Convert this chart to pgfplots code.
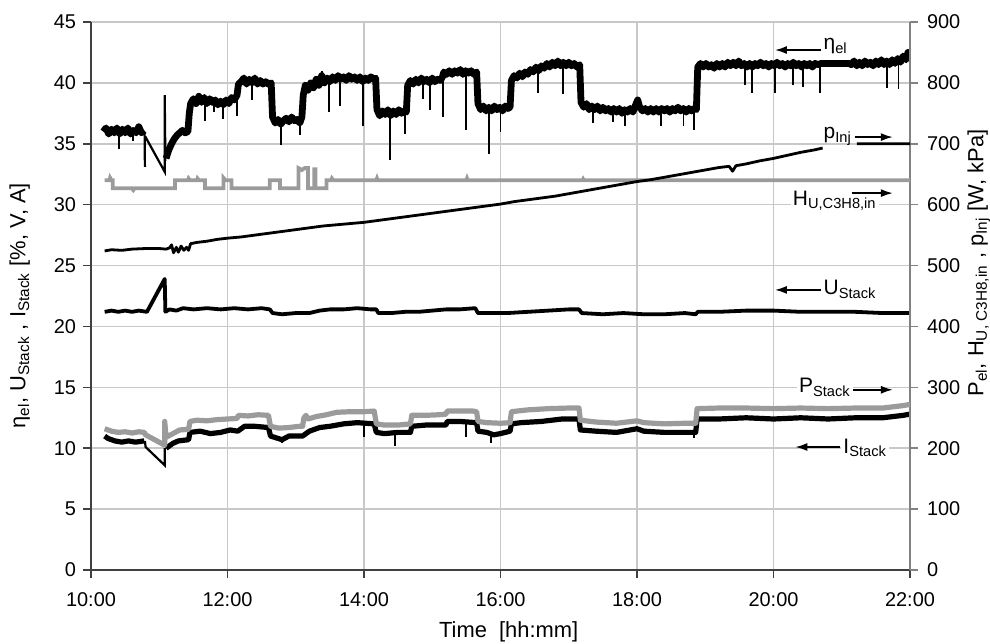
\documentclass[border=0pt]{standalone}
\usepackage{pgfplots}
\pgfplotsset{compat=1.18}
\usepackage{fontspec}
\setmainfont{Liberation Sans}
\usetikzlibrary{arrows.meta}

\definecolor{gridgray}{RGB}{200,200,200}
\definecolor{datagray}{RGB}{155,155,155}
\definecolor{axisgray}{RGB}{130,130,130}

\pgfplotsset{
  myaxis/.style={
    scale only axis, width=409.5bp, height=274bp,
    at={(0,0)}, anchor=south west,
    xmin=10, xmax=22,
    tick align=outside, major tick length=4bp,
    tick label style={font=\fontsize{10}{12}\selectfont},
    label style={font=\fontsize{11}{13}\selectfont},
    /pgf/number format/assume math mode=true,
    unbounded coords=jump,
  },
  thinspike/.style={black, line width=0.9bp},
}

\begin{document}
\begin{tikzpicture}
\useasboundingbox (-45.5bp,-37bp) rectangle (449.5bp,285bp);

% left axis: eta_el, U_Stack, I_Stack
\begin{axis}[myaxis,
  ymin=0, ymax=45, ytick={0,5,...,45},
  xtick={10,12,...,22},
  xticklabels={10:00,12:00,14:00,16:00,18:00,20:00,22:00},
  xticklabel style={yshift=-4bp},
  axis x line*=bottom, axis y line*=left,
  axis line style={black!75, line width=0.9bp},
  every tick/.style={black!75, line width=0.8bp},
  xmajorgrids, ymajorgrids,
  grid style={gridgray, line width=0.8bp},
  xlabel={Time~~[hh:mm]},
  xlabel style={at={(rel axis cs:0.51,-0.113)}, anchor=center},
  ylabel={η\textsubscript{el}, U\textsubscript{Stack} , I\textsubscript{Stack} [\%, V, A]},
  ylabel style={at={(rel axis cs:-0.087,0.482)}, anchor=center},
]
% eta_el
\addplot[black, line width=3.4bp, line join=round] coordinates {
(10.18,36.0) (10.22,36.3) (10.26,35.8) (10.30,36.2) (10.34,35.9) (10.38,36.3) (10.42,35.8) (10.46,36.2)
(10.50,35.9) (10.54,36.3) (10.58,35.8) (10.62,36.1) (10.66,35.9) (10.70,36.4) (10.74,35.9) (10.78,36.1)
};
\addplot[black, line width=1.1bp] coordinates {
(10.785,35.9) (10.79,33.1) (10.79,nan) (10.795,35.6) (11.08,32.7) (11.08,39.0) (11.09,33.6)
};
\addplot[black, line width=3.4bp, line join=round] coordinates {
(11.10,33.8) (11.14,34.5) (11.18,35.0) (11.22,35.4) (11.26,35.7) (11.30,35.9) (11.34,36.1) (11.38,35.9)
(11.42,36.0) (11.44,37.5) (11.46,38.3) (11.50,38.7) (11.54,38.3) (11.58,38.9) (11.62,38.4) (11.66,38.8)
(11.70,38.3) (11.74,38.7) (11.78,38.4) (11.82,38.6) (11.86,38.2) (11.90,38.5) (11.94,38.2) (11.98,38.6)
(12.02,38.3) (12.06,38.8) (12.10,38.6) (12.14,39.0) (12.16,39.9) (12.20,40.1) (12.24,40.4) (12.28,39.9)
(12.32,40.3) (12.36,40.0) (12.40,40.4) (12.44,39.9) (12.48,40.2) (12.52,39.9) (12.56,40.1) (12.60,39.9)
(12.64,40.0) (12.66,37.2) (12.70,36.7) (12.74,37.0) (12.78,36.6) (12.82,36.9) (12.86,37.1) (12.90,36.8)
(12.94,37.2) (12.98,36.9) (13.02,37.0) (13.06,36.7) (13.09,37.2) (13.11,39.0) (13.14,39.8) (13.18,39.4)
(13.22,40.0) (13.26,39.6) (13.30,40.3) (13.34,39.8) (13.38,40.6) (13.42,40.0) (13.46,40.4) (13.50,40.1)
(13.54,40.5) (13.58,40.2) (13.62,40.6) (13.66,40.3) (13.70,40.5) (13.74,40.2) (13.78,40.6) (13.82,40.3)
(13.86,40.5) (13.90,40.2) (13.94,40.5) (13.98,40.1) (14.02,40.4) (14.06,40.2) (14.10,40.5) (14.14,40.3)
(14.17,40.4) (14.19,37.8) (14.23,37.3) (14.27,37.7) (14.31,37.4) (14.35,37.8) (14.39,37.3) (14.43,37.7)
(14.47,37.4) (14.51,37.8) (14.55,37.5) (14.59,37.7) (14.62,37.6) (14.64,39.8) (14.68,40.2) (14.72,39.9)
(14.76,40.3) (14.80,40.0) (14.84,40.4) (14.88,40.1) (14.92,40.3) (14.96,40.0) (15.00,40.4) (15.04,40.1)
(15.08,40.3) (15.12,40.2) (15.15,40.5) (15.17,40.9) (15.21,40.7) (15.25,41.0) (15.29,40.7) (15.33,41.0)
(15.37,40.8) (15.41,41.1) (15.45,40.7) (15.49,41.0) (15.53,40.8) (15.57,41.0) (15.61,40.7) (15.65,40.9)
(15.67,38.3) (15.71,37.8) (15.75,38.1) (15.79,37.7) (15.83,38.0) (15.87,37.7) (15.91,38.1) (15.95,37.8)
(15.99,38.0) (16.03,37.7) (16.07,38.1) (16.11,37.9) (16.14,38.0) (16.16,40.2) (16.20,40.6) (16.24,40.4)
(16.28,40.8) (16.32,40.5) (16.36,40.9) (16.40,40.7) (16.44,41.1) (16.48,40.9) (16.52,41.3) (16.56,41.0)
(16.60,41.4) (16.64,41.2) (16.68,41.6) (16.72,41.3) (16.76,41.7) (16.80,41.4) (16.84,41.8) (16.88,41.4)
(16.92,41.7) (16.96,41.4) (17.00,41.7) (17.04,41.4) (17.08,41.6) (17.12,41.3) (17.16,41.5) (17.18,38.4)
(17.22,38.0) (17.26,38.3) (17.30,37.8) (17.34,38.1) (17.38,37.8) (17.42,38.1) (17.46,37.7) (17.50,38.0)
(17.54,37.7) (17.58,37.9) (17.62,37.6) (17.66,37.9) (17.70,37.6) (17.74,37.9) (17.78,37.5) (17.82,37.8)
(17.86,37.6) (17.90,37.9) (17.94,37.6) (17.98,38.2) (18.01,38.6) (18.04,38.0) (18.08,37.7) (18.12,37.9)
(18.16,37.6) (18.20,37.9) (18.24,37.6) (18.28,37.9) (18.32,37.6) (18.36,37.9) (18.40,37.7) (18.44,37.9)
(18.48,37.6) (18.52,37.9) (18.56,37.7) (18.60,38.0) (18.64,37.7) (18.68,37.9) (18.72,37.6) (18.76,37.9)
(18.80,37.7) (18.84,37.9) (18.87,37.8) (18.89,41.3) (18.93,41.6) (18.97,41.3) (19.01,41.6) (19.05,41.3)
(19.09,41.5) (19.13,41.2) (19.17,41.6) (19.21,41.3) (19.25,41.6) (19.29,41.3) (19.33,41.7) (19.37,41.4)
(19.41,41.7) (19.45,41.4) (19.49,41.8) (19.53,41.4) (19.57,41.6) (19.61,41.3) (19.65,41.6) (19.69,41.3)
(19.73,41.6) (19.77,41.4) (19.81,41.7) (19.85,41.4) (19.89,41.6) (19.93,41.3) (19.97,41.6) (20.01,41.4)
(20.05,41.7) (20.09,41.4) (20.13,41.6) (20.17,41.3) (20.21,41.6) (20.25,41.4) (20.29,41.7) (20.33,41.4)
(20.37,41.6) (20.41,41.3) (20.45,41.6) (20.49,41.4) (20.53,41.6) (20.57,41.3) (20.61,41.6) (20.65,41.5)
(20.70,41.6) (21.10,41.6) (21.14,41.5) (21.18,41.8) (21.22,41.4) (21.26,41.7) (21.30,41.4) (21.34,41.8)
(21.38,41.5) (21.42,41.7) (21.46,41.4) (21.50,41.8) (21.54,41.5) (21.58,41.9) (21.62,41.5) (21.66,41.8)
(21.70,41.5) (21.74,41.9) (21.78,41.6) (21.82,42.0) (21.86,41.7) (21.90,42.2) (21.94,41.9) (21.97,42.5)
(22.00,42.0)
};
% eta_el short dips
\addplot[thinspike] coordinates {
(10.41,35.9) (10.41,34.6) (10.41,nan)
(10.62,35.9) (10.62,35.2) (10.62,nan)
(11.67,38.5) (11.67,36.9) (11.67,nan)
(11.80,38.4) (11.80,37.6) (11.80,nan)
(11.93,38.4) (11.93,37.0) (11.93,nan)
(12.14,38.8) (12.14,37.3) (12.14,nan)
(12.36,40.0) (12.36,38.6) (12.36,nan)
(12.78,36.8) (12.78,34.9) (12.78,nan)
(13.06,36.9) (13.06,35.7) (13.06,nan)
(13.38,40.2) (13.38,41.0) (13.38,nan)
(13.49,40.2) (13.49,37.6) (13.49,nan)
(13.65,40.3) (13.65,38.1) (13.65,nan)
(13.98,40.3) (13.98,36.5) (13.98,nan)
(14.38,37.5) (14.38,33.7) (14.38,nan)
(14.60,37.6) (14.60,35.8) (14.60,nan)
(14.87,40.1) (14.87,38.7) (14.87,nan)
(14.97,40.1) (14.97,37.8) (14.97,nan)
(15.16,40.3) (15.16,37.2) (15.16,nan)
(15.49,40.9) (15.49,36.1) (15.49,nan)
(15.83,37.9) (15.83,34.2) (15.83,nan)
(16.00,37.9) (16.00,36.0) (16.00,nan)
(16.55,41.1) (16.55,39.2) (16.55,nan)
(16.92,41.5) (16.92,39.1) (16.92,nan)
(17.35,38.0) (17.35,36.7) (17.35,nan)
(17.65,37.8) (17.65,36.8) (17.65,nan)
(17.82,37.7) (17.82,36.5) (17.82,nan)
(18.35,37.8) (18.35,36.5) (18.35,nan)
(18.68,37.8) (18.68,36.5) (18.68,nan)
(18.83,37.8) (18.83,36.1) (18.83,nan)
(19.58,41.5) (19.58,39.8) (19.58,nan)
(19.68,41.5) (19.68,39.2) (19.68,nan)
(20.02,41.5) (20.02,39.2) (20.02,nan)
(20.29,41.5) (20.29,39.8) (20.29,nan)
(20.43,41.5) (20.43,39.7) (20.43,nan)
(20.68,41.5) (20.68,39.2) (20.68,nan)
(21.66,41.7) (21.66,39.6) (21.66,nan)
(21.83,41.8) (21.83,39.5)
};
% U_Stack
\addplot[black, line width=1.9bp, line join=round] coordinates {
(10.20,21.2) (10.30,21.3) (10.40,21.2) (10.50,21.3) (10.60,21.2) (10.70,21.3) (10.82,21.2) (11.08,23.9)
(11.09,21.2) (11.15,21.4) (11.25,21.3) (11.35,21.5) (11.50,21.4) (11.70,21.5) (11.90,21.4) (12.10,21.5)
(12.30,21.4) (12.50,21.5) (12.62,21.4) (12.66,21.1) (12.80,21.0) (13.00,21.1) (13.20,21.1) (13.35,21.3)
(13.50,21.4) (13.70,21.4) (13.90,21.5) (14.10,21.4) (14.18,21.4) (14.21,21.1) (14.40,21.1) (14.60,21.2)
(14.80,21.2) (15.00,21.3) (15.20,21.4) (15.40,21.4) (15.63,21.5) (15.67,21.1) (15.90,21.1) (16.10,21.1)
(16.40,21.2) (16.70,21.3) (17.00,21.4) (17.15,21.4) (17.19,21.1) (17.50,21.0) (17.80,21.1) (18.10,21.0)
(18.40,21.0) (18.70,21.1) (18.86,21.0) (18.89,21.2) (19.20,21.2) (19.60,21.3) (20.00,21.3) (20.40,21.2)
(20.80,21.2) (21.20,21.2) (21.60,21.1) (22.00,21.1)
};
% I_Stack
\addplot[black, line width=2.6bp, line join=round] coordinates {
(10.20,11.0) (10.25,10.8) (10.35,10.6) (10.45,10.5) (10.55,10.6) (10.65,10.5) (10.78,10.6)
};
\addplot[black, line width=1.1bp] coordinates {
(10.79,10.6) (10.80,10.1) (11.08,8.6) (11.08,10.0)
};
\addplot[black, line width=2.6bp, line join=round] coordinates {
(11.10,10.0) (11.20,10.4) (11.28,10.6) (11.43,10.7) (11.45,11.3) (11.60,11.4) (11.75,11.2) (11.90,11.3)
(12.04,11.5) (12.15,11.4) (12.25,11.8) (12.40,11.8) (12.60,11.7) (12.63,11.0) (12.80,10.7) (12.90,11.0)
(13.10,11.0) (13.20,11.4) (13.35,11.7) (13.50,11.8) (13.70,12.0) (13.90,12.1) (14.15,12.0) (14.18,11.3)
(14.30,11.2) (14.50,11.3) (14.68,11.3) (14.70,11.8) (14.90,11.9) (15.20,11.9) (15.22,12.2) (15.40,12.2)
(15.65,12.1) (15.67,11.4) (15.80,11.3) (15.90,11.1) (16.00,11.2) (16.14,11.4) (16.16,12.0) (16.30,12.1)
(16.60,12.2) (16.90,12.4) (17.15,12.4) (17.17,11.5) (17.40,11.4) (17.70,11.3) (18.00,11.6) (18.10,11.4)
(18.40,11.3) (18.70,11.3) (18.86,11.3) (18.88,12.4) (19.20,12.4) (19.60,12.5) (20.00,12.4) (20.40,12.5)
(20.80,12.4) (21.20,12.5) (21.60,12.5) (21.90,12.7) (22.00,12.8)
};
\addplot[thinspike] coordinates {
(12.80,10.9) (12.80,10.4) (12.80,nan)
(14.00,12.0) (14.00,10.9) (14.00,nan)
(14.45,11.2) (14.45,10.2) (14.45,nan)
(15.50,12.2) (15.50,10.9) (15.50,nan)
(15.86,11.2) (15.86,10.4) (15.86,nan)
(18.84,11.3) (18.84,10.8)
};
\end{axis}

% right axis: P_Stack, H_U, p_Inj
\begin{axis}[myaxis,
  ymin=0, ymax=900, ytick={0,100,...,900},
  axis x line=none, axis y line*=right,
  axis line style={axisgray, line width=1bp},
  every tick/.style={axisgray, line width=0.8bp},
  yticklabel style={xshift=1bp},
  ylabel={P\textsubscript{el}, H\textsubscript{U, C3H8,in} , p\textsubscript{Inj} [W, kPa]},
  ylabel style={at={(rel axis cs:1.084,0.56)}, anchor=center, rotate=0},
  y tick label style={/pgf/number format/.cd, 1000 sep={}},
]
% H_U,C3H8,in
\addplot[datagray, line width=1.9bp] coordinates {
(10.20,640) (10.27,640) (10.28,644) (10.30,640) (10.32,640) (10.32,627) (10.60,627) (10.62,624) (10.64,627)
(11.23,627) (11.23,640) (11.42,640) (11.43,643) (11.45,640) (11.55,640) (11.56,643) (11.58,640) (11.67,640)
(11.67,627) (11.94,627) (11.94,644) (11.97,640) (12.06,640) (12.06,627) (12.62,627) (12.62,640) (12.77,640)
(12.77,627) (13.04,627) (13.04,660) (13.09,657) (13.13,660) (13.18,660) (13.18,627) (13.27,627) (13.27,658)
(13.29,658) (13.29,627) (13.45,627) (13.45,640) (13.52,640) (13.53,643) (13.55,640) (14.18,640) (14.19,643)
(14.20,640) (15.50,640) (15.51,643) (15.52,640) (17.20,640) (17.21,642) (17.22,640) (22.00,640)
};
% P_Stack
\addplot[datagray, line width=2.6bp, line join=round] coordinates {
(10.20,232) (10.30,228) (10.40,226) (10.50,227) (10.60,225) (10.70,227) (10.78,226) (10.80,222) (11.08,205)
(11.08,244) (11.10,218) (11.20,224) (11.30,230) (11.43,231) (11.45,244) (11.55,246) (11.70,245) (11.85,247)
(12.00,248) (12.14,249) (12.16,254) (12.30,253) (12.45,255) (12.60,254) (12.63,236) (12.75,233) (12.90,234)
(13.05,236) (13.10,236) (13.12,250) (13.15,254) (13.18,248) (13.30,252) (13.45,255) (13.60,259) (13.80,260)
(14.00,260) (14.15,261) (14.18,240) (14.30,238) (14.50,238) (14.68,240) (14.70,254) (14.90,254) (15.10,255)
(15.20,256) (15.22,261) (15.40,261) (15.60,261) (15.65,260) (15.67,244) (15.80,242) (16.00,241) (16.14,242)
(16.16,260) (16.40,263) (16.70,265) (17.00,266) (17.15,266) (17.17,246) (17.40,243) (17.70,241) (18.00,245)
(18.10,242) (18.40,240) (18.70,241) (18.86,241) (18.88,265) (19.20,266) (19.60,266) (20.00,265) (20.40,266)
(20.80,265) (21.20,266) (21.60,266) (21.90,270) (22.00,272)
};
% p_Inj
\addplot[black, line width=1.4bp, line join=round] coordinates {
(10.20,524) (10.30,526) (10.45,525) (10.60,527) (10.80,528) (11.00,528) (11.10,527) (11.15,529) (11.18,534)
(11.21,521) (11.25,530) (11.28,522) (11.32,532) (11.36,525) (11.40,530) (11.43,525) (11.46,536) (11.55,538)
(11.70,540) (11.85,543) (12.00,545) (12.20,547) (12.40,550) (12.60,553) (12.80,556) (13.00,559) (13.20,562)
(13.40,565) (13.60,567) (13.80,569) (14.00,571) (14.20,574) (14.40,577) (14.60,580) (14.80,583) (15.00,586)
(15.20,589) (15.40,592) (15.60,595) (15.80,598) (16.00,601) (16.20,605) (16.40,608) (16.60,611) (16.80,614)
(17.00,618) (17.20,622) (17.40,626) (17.60,630) (17.80,634) (18.00,638) (18.20,641) (18.40,645) (18.60,649)
(18.80,653) (19.00,657) (19.20,661) (19.35,663) (19.40,655) (19.45,664) (19.60,667) (19.80,672) (20.00,676)
(20.20,681) (20.40,686) (20.60,690) (20.72,693) (20.72,nan) (21.22,700) (22.00,700)
};

% annotations
\tikzset{lab/.style={font=\fontsize{10.5}{12}\selectfont, inner sep=1bp, fill=white, anchor=west},
         arr/.style={black, line width=0.9bp, -{Latex[length=6bp,width=4bp]}}}
\draw[arr] (axis cs:20.70,854) -- (axis cs:20.02,854);
\node[lab, fill=none] at (axis cs:20.70,860) {η\textsubscript{el}};
\node[lab, fill=none] at (axis cs:20.70,712) {p\textsubscript{Inj}};
\draw[arr] (axis cs:21.19,711) -- (axis cs:21.75,711);
\node[lab] at (axis cs:20.25,606) {H\textsubscript{U,C3H8,in}};
\draw[arr] (axis cs:21.15,619) -- (axis cs:21.75,619);
\draw[arr] (axis cs:20.70,460) -- (axis cs:20.02,460);
\node[lab, fill=none] at (axis cs:20.70,461) {U\textsubscript{Stack}};
\node[lab] at (axis cs:20.34,300) {P\textsubscript{Stack}};
\draw[arr] (axis cs:21.17,296) -- (axis cs:21.75,296);
\draw[arr] (axis cs:20.97,202) -- (axis cs:20.32,202);
\node[lab] at (axis cs:20.99,200) {I\textsubscript{Stack}};
\end{axis}
\end{tikzpicture}
\end{document}
